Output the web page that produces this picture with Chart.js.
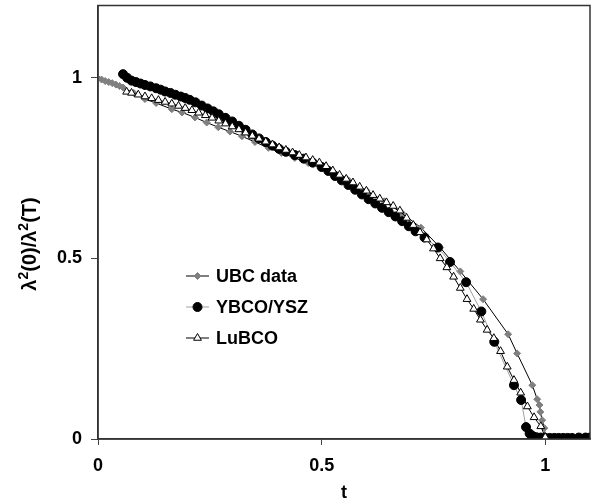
<!DOCTYPE html>
<html>
<head>
<meta charset="utf-8">
<script src="https://cdn.jsdelivr.net/npm/chart.js@4.4.1/dist/chart.umd.min.js"></script>
<style>
  html, body { margin: 0; padding: 0; background: #fff; }
  #wrap { width: 598px; height: 504px; }
</style>
</head>
<body>
<div id="wrap"><canvas id="penetrationChart" width="598" height="504"></canvas></div>
<script>
// Superfluid density vs reduced temperature, three data sets
const seriesNames = ["UBC data", "YBCO/YSZ", "LuBCO"];
const xTicks = [0, 0.5, 1];
const yTicks = [0, 0.5, 1];

// UBC data (grey diamonds)
const ubcT = [0, 0.008, 0.016, 0.024, 0.032, 0.04, 0.048, 0.056, 0.08, 0.105, 0.13, 0.165, 0.188, 0.217,
  0.243, 0.269, 0.295, 0.322, 0.351, 0.381, 0.41, 0.44, 0.47, 0.5, 0.53, 0.56, 0.6, 0.64, 0.68, 0.722,
  0.765, 0.81, 0.861, 0.917, 0.937, 0.971, 0.982, 0.987, 0.989, 0.993, 0.998, 1.0];
const ubcY = [0.998, 0.995, 0.991, 0.988, 0.985, 0.981, 0.977, 0.973, 0.958, 0.941, 0.93, 0.913, 0.904, 0.89,
  0.876, 0.863, 0.851, 0.838, 0.822, 0.806, 0.792, 0.778, 0.764, 0.75, 0.734, 0.716, 0.688, 0.658, 0.625, 0.585,
  0.53, 0.464, 0.387, 0.29, 0.237, 0.149, 0.11, 0.094, 0.075, 0.052, 0.03, 0.008];

// YBCO/YSZ (filled circles)
const ybcoT = [0.056, 0.065, 0.075, 0.085, 0.095, 0.105, 0.117, 0.13, 0.14, 0.15, 0.162, 0.173, 0.185, 0.195,
  0.205, 0.218, 0.232, 0.245, 0.258, 0.27, 0.285, 0.3, 0.315, 0.33, 0.345, 0.36, 0.375, 0.39, 0.405, 0.42,
  0.44, 0.46, 0.48, 0.5, 0.515, 0.53, 0.545, 0.56, 0.575, 0.59, 0.605, 0.62, 0.635, 0.65, 0.665, 0.68,
  0.695, 0.71, 0.73, 0.76, 0.787, 0.823, 0.857, 0.886, 0.93, 0.946, 0.957, 0.965, 0.972, 0.98, 0.99, 1.0,
  1.01, 1.02, 1.03, 1.04, 1.05, 1.06, 1.075, 1.09, 1.1];
const ybcoY = [1.01, 1.0, 0.992, 0.988, 0.984, 0.98, 0.976, 0.971, 0.967, 0.962, 0.958, 0.953, 0.948, 0.944,
  0.939, 0.932, 0.923, 0.915, 0.907, 0.899, 0.889, 0.879, 0.867, 0.856, 0.843, 0.832, 0.822, 0.812, 0.803, 0.795,
  0.786, 0.776, 0.765, 0.753, 0.742, 0.728, 0.716, 0.703, 0.69, 0.677, 0.664, 0.652, 0.64, 0.628, 0.616, 0.603,
  0.589, 0.575, 0.558, 0.53, 0.49, 0.434, 0.353, 0.269, 0.149, 0.108, 0.033, 0.015, 0.008, 0.005, 0.004, 0.003,
  0.003, 0.003, 0.003, 0.003, 0.003, 0.003, 0.004, 0.004, 0.004];

// LuBCO (open triangles)
const luT = [0.064, 0.075, 0.09, 0.105, 0.12, 0.135, 0.15, 0.165, 0.18, 0.195, 0.21, 0.225, 0.24, 0.255,
  0.27, 0.285, 0.3, 0.315, 0.33, 0.345, 0.36, 0.375, 0.39, 0.405, 0.42, 0.435, 0.45, 0.465, 0.48, 0.495,
  0.51, 0.525, 0.54, 0.555, 0.57, 0.585, 0.6, 0.615, 0.63, 0.645, 0.66, 0.675, 0.69, 0.705, 0.72, 0.735,
  0.75, 0.765, 0.78, 0.795, 0.81, 0.825, 0.84, 0.855, 0.87, 0.885, 0.9, 0.915, 0.93, 0.945, 0.96, 0.975,
  0.99, 1.0];
const luY = [0.961, 0.958, 0.953, 0.948, 0.943, 0.938, 0.933, 0.928, 0.922, 0.916, 0.91, 0.903, 0.896, 0.889,
  0.881, 0.873, 0.865, 0.857, 0.848, 0.839, 0.831, 0.823, 0.815, 0.807, 0.8, 0.793, 0.786, 0.779, 0.772, 0.765,
  0.755, 0.743, 0.731, 0.72, 0.71, 0.698, 0.687, 0.675, 0.665, 0.655, 0.645, 0.632, 0.612, 0.592, 0.572, 0.552,
  0.527, 0.5, 0.475, 0.449, 0.418, 0.387, 0.36, 0.33, 0.302, 0.279, 0.243, 0.2, 0.163, 0.128, 0.09, 0.06,
  0.035, 0.005];

function toPoints(ts, ys) {
  return ts.map((t, i) => ({ x: t, y: ys[i] }));
}

const FONT = "'Liberation Sans', Arial, sans-serif";

// Box round the plot area
const framePlugin = {
  id: "frame",
  afterDraw(chart) {
    const { ctx, chartArea: a } = chart;
    ctx.save();
    ctx.strokeStyle = "#333";
    ctx.lineWidth = 1.5;
    ctx.strokeRect(a.left, a.top, a.right - a.left, a.bottom - a.top);
    ctx.restore();
  },
};

// y axis title with real superscripts, drawn rotated
const yTitlePlugin = {
  id: "yTitle",
  afterDraw(chart) {
    const { ctx } = chart;
    const parts = [["λ", false], ["2", true], ["(0)/λ", false], ["2", true], ["(T)", false]];
    const big = "bold 20px " + FONT;
    const small = "bold 14px " + FONT;
    ctx.save();
    let total = 0;
    parts.forEach(([s, sup]) => {
      ctx.font = sup ? small : big;
      total += ctx.measureText(s).width;
    });
    ctx.translate(36, 244);
    ctx.rotate(-Math.PI / 2);
    ctx.fillStyle = "#000";
    ctx.textBaseline = "alphabetic";
    ctx.textAlign = "left";
    let x = -total / 2;
    parts.forEach(([s, sup]) => {
      ctx.font = sup ? small : big;
      ctx.fillText(s, x, sup ? -8 : 0);
      x += ctx.measureText(s).width;
    });
    ctx.restore();
  },
};

// Legend drawn inside the plot, line sample with marker in the middle
const legendPlugin = {
  id: "insideLegend",
  afterDraw(chart) {
    const { ctx } = chart;
    const rows = [276, 307, 338];
    ctx.save();
    chart.data.datasets.forEach((ds, i) => {
      const y = rows[i];
      ctx.strokeStyle = ds.borderColor;
      ctx.lineWidth = ds.borderWidth;
      ctx.beginPath();
      ctx.moveTo(186, y);
      ctx.lineTo(209, y);
      ctx.stroke();
      ctx.fillStyle = ds.pointBackgroundColor;
      ctx.strokeStyle = ds.pointBorderColor;
      ctx.lineWidth = ds.pointBorderWidth;
      Chart.helpers.drawPoint(ctx, {
        pointStyle: ds.pointStyle,
        radius: ds.pointRadius,
        rotation: 0,
        borderWidth: ds.pointBorderWidth,
      }, 197.5, y);
      ctx.fillStyle = "#000";
      ctx.font = "bold 18px " + FONT;
      ctx.textBaseline = "middle";
      ctx.textAlign = "left";
      ctx.fillText(ds.label, 216, y + 1);
    });
    ctx.restore();
  },
};

const tickFont = { family: FONT, size: 18, weight: "bold" };

const chartEl = document.getElementById("penetrationChart");
chartEl.chart = new Chart(chartEl.getContext("2d"), {
  type: "scatter",
  data: {
    datasets: [
      {
        label: seriesNames[0],
        data: toPoints(ubcT, ubcY),
        showLine: true,
        borderColor: "#000",
        borderWidth: 1,
        pointStyle: "rectRot",
        pointRadius: 3.5,
        pointBackgroundColor: "#808080",
        pointBorderColor: "#808080",
        pointBorderWidth: 1,
        order: 3,
      },
      {
        label: seriesNames[1],
        data: toPoints(ybcoT, ybcoY),
        showLine: true,
        borderColor: "#a0a0a0",
        borderWidth: 1,
        pointStyle: "circle",
        pointRadius: 4.5,
        pointBackgroundColor: "#000",
        pointBorderColor: "#000",
        pointBorderWidth: 1,
        order: 2,
      },
      {
        label: seriesNames[2],
        data: toPoints(luT, luY),
        showLine: true,
        borderColor: "#000",
        borderWidth: 1,
        pointStyle: "triangle",
        pointRadius: 4.5,
        pointBackgroundColor: "#fff",
        pointBorderColor: "#000",
        pointBorderWidth: 1,
        order: 1,
      },
    ],
  },
  options: {
    responsive: false,
    animation: false,
    layout: { padding: { top: 3, right: 8, left: 0, bottom: 0 } },
    plugins: {
      legend: { display: false },
      tooltip: { enabled: false },
    },
    scales: {
      x: {
        type: "linear",
        min: 0,
        max: 1.1,
        afterBuildTicks: (scale) => {
          scale.ticks = xTicks.map((v) => ({ value: v }));
        },
        afterFit: (scale) => {
          scale.height = 65;
          scale.paddingLeft = 0;
          scale.paddingRight = 0;
        },
        grid: { drawOnChartArea: false, drawTicks: true, tickLength: 6, color: "#444" },
        border: { display: true, color: "#333", width: 1.5 },
        ticks: { color: "#000", padding: 10, font: tickFont, callback: (v) => String(v) },
        title: {
          display: true,
          text: "t",
          color: "#000",
          padding: { top: 2, bottom: 0 },
          font: tickFont,
        },
      },
      y: {
        type: "linear",
        min: 0,
        max: 1.2,
        afterBuildTicks: (scale) => {
          scale.ticks = yTicks.map((v) => ({ value: v }));
        },
        afterFit: (scale) => {
          scale.width = 98;
          scale.paddingTop = 0;
          scale.paddingBottom = 0;
        },
        grid: { drawOnChartArea: false, drawTicks: true, tickLength: 7, color: "#444" },
        border: { display: true, color: "#333", width: 1.5 },
        ticks: { color: "#000", padding: 9, font: tickFont, callback: (v) => String(v) },
        title: { display: false },
      },
    },
  },
  plugins: [framePlugin, yTitlePlugin, legendPlugin],
});
</script>
</body>
</html>
